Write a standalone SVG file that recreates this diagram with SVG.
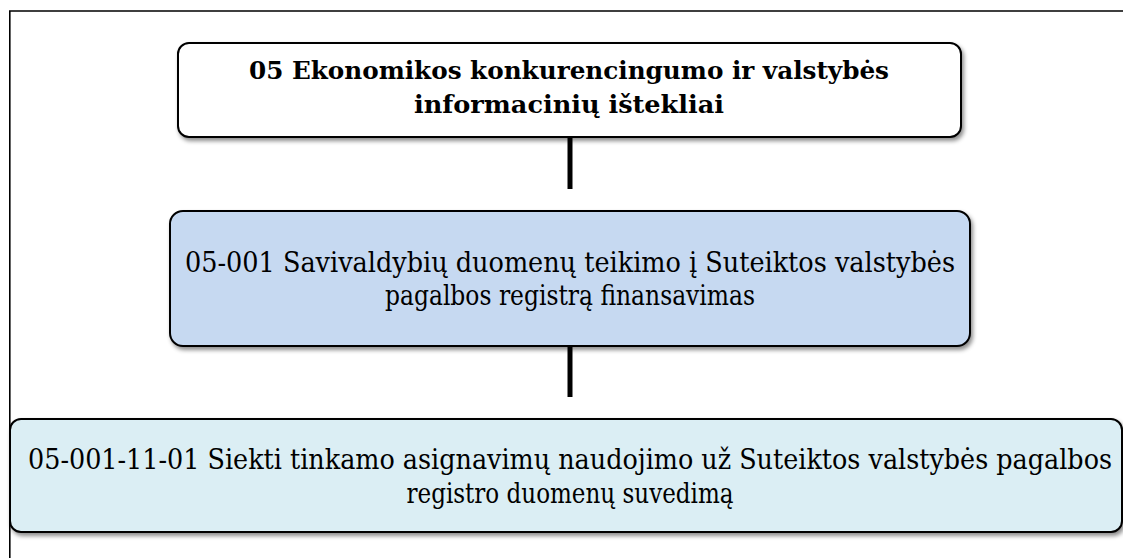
<svg xmlns="http://www.w3.org/2000/svg" width="1123" height="558" viewBox="0 0 1123 558">
<style>
.box{stroke:#000;stroke-width:2;filter:url(#sh)}
.conn{stroke:#000;stroke-width:5;fill:none}
text{font-family:"DejaVu Serif Condensed","DejaVu Serif",serif;font-stretch:condensed;text-anchor:middle;fill:#000}
.b{font-weight:bold;font-size:24px}
.r{font-size:28px}
</style>
<defs>
<filter id="sh" x="-5%" y="-20%" width="110%" height="150%">
<feDropShadow dx="2" dy="3" stdDeviation="2" flood-color="#000" flood-opacity="0.45"/>
</filter>
</defs>
<rect width="1123" height="558" fill="#fff"/>
<g id="frame" fill="none" stroke="#000" stroke-width="1.6">
<path d="M9.8 558 V11 H1123"/>
</g>
<g id="connectors">
<line class="conn" x1="570" y1="137" x2="570" y2="189"/>
<line class="conn" x1="570" y1="346" x2="570" y2="397"/>
</g>
<g id="node1">
<rect class="box" x="178" y="43" width="783" height="94" rx="11" fill="#fff"/>
<text class="b" x="569" y="79" textLength="640" lengthAdjust="spacingAndGlyphs">05 Ekonomikos konkurencingumo ir valstybės</text>
<text class="b" x="569" y="113" textLength="310" lengthAdjust="spacingAndGlyphs">informacinių ištekliai</text>
</g>
<g id="node2">
<rect class="box" x="170" y="211" width="800" height="135" rx="13" fill="#c6d9f1"/>
<text class="r" x="570" y="272" textLength="770" lengthAdjust="spacingAndGlyphs">05-001 Savivaldybių duomenų teikimo į Suteiktos valstybės</text>
<text class="r" x="570" y="305" textLength="370" lengthAdjust="spacingAndGlyphs">pagalbos registrą finansavimas</text>
</g>
<g id="node3">
<rect class="box" x="10" y="419" width="1112" height="113" rx="11" fill="#dbeef4"/>
<text class="r" x="570" y="469" textLength="1084" lengthAdjust="spacingAndGlyphs">05-001-11-01 Siekti tinkamo asignavimų naudojimo už Suteiktos valstybės pagalbos</text>
<text class="r" x="570" y="503" textLength="327" lengthAdjust="spacingAndGlyphs">registro duomenų suvedimą</text>
</g>
</svg>
